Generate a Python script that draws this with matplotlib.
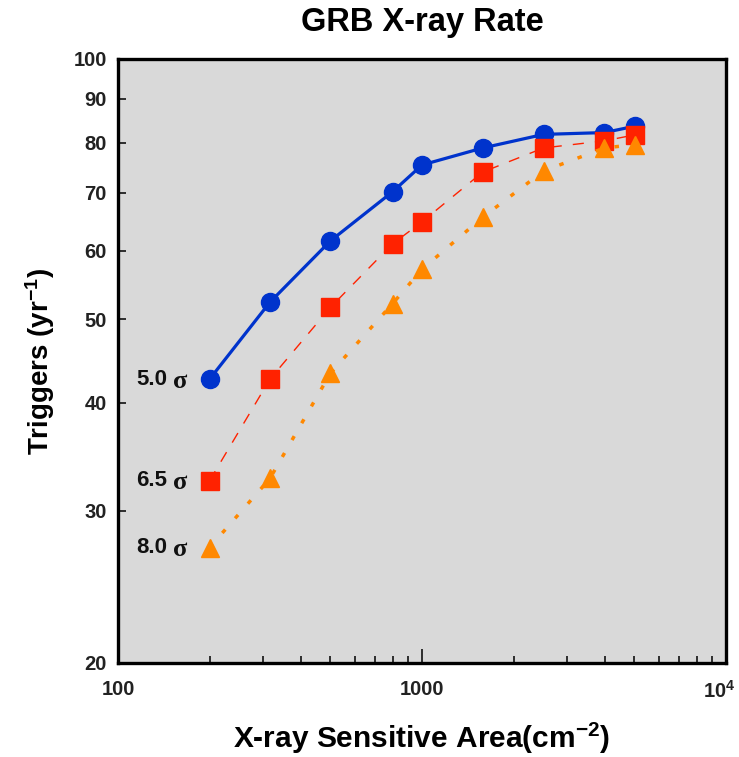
import matplotlib
matplotlib.use("Agg")
import matplotlib.pyplot as plt
from matplotlib.ticker import FixedLocator, NullFormatter, NullLocator
from matplotlib.transforms import ScaledTranslation

area = [200, 316, 500, 800, 1000, 1585, 2512, 3981, 5012]
rate_5sigma = [42.6, 52.3, 61.6, 70.2, 75.4, 78.9, 81.8, 82.2, 83.6]
rate_65sigma = [32.5, 42.6, 51.6, 61.1, 64.8, 74.0, 78.9, 80.4, 81.7]
rate_8sigma = [27.2, 32.7, 43.3, 52.1, 57.1, 65.6, 74.2, 78.9, 79.6]
series_values = ["5.0", "6.5", "8.0"]
yticks = [20, 30, 40, 50, 60, 70, 80, 90, 100]
xticks = [100, 1000, 10000]
xticklabels = ["100", "1000", r"10$^{\mathbf{4}}$"]

plt.rcParams['font.family'] = ['Liberation Sans', 'DejaVu Sans']
plt.rcParams['mathtext.fontset'] = 'custom'
plt.rcParams['mathtext.rm'] = 'Liberation Sans:bold'
plt.rcParams['mathtext.bf'] = 'Liberation Sans:bold'
plt.rcParams['mathtext.default'] = 'bf'

fig = plt.figure(figsize=(7.39, 7.57), dpi=100)
ax = fig.add_axes([118/739, 1-663/757, (726-118)/739, (663-59)/757])
ax.set_facecolor('#d9d9d9')
ax.set_xscale('log')
ax.set_yscale('log')
ax.set_xlim(100, 10000)
ax.set_ylim(20, 100)

ms = 13
ax.plot(area, rate_5sigma, '-', color='#0033cc', lw=2.3, marker='o', ms=ms, zorder=3)
ax.plot(area, rate_65sigma, color='#ff2200', lw=1.0, dashes=(8, 8), marker='s', ms=ms-0.5, zorder=4)
ax.plot(area, rate_8sigma, color='#ff8800', lw=2.5, dashes=(1.3, 4.3), marker='^', ms=ms, zorder=5)

for lab, yv in zip(series_values, [rate_5sigma[0], rate_65sigma[0], rate_8sigma[0]]):
    ax.annotate('σ', (area[0], yv), xytext=(-16, -1.5), textcoords='offset points',
                ha='right', va='center', fontsize=19, fontweight='bold', color='#111111',
                family=['Liberation Serif', 'DejaVu Serif'])
    ax.annotate(lab, (area[0], yv), xytext=(-30.5, 0), textcoords='offset points',
                ha='right', va='center', fontsize=16, fontweight='bold', color='#111111')

ax.yaxis.set_major_locator(FixedLocator(yticks))
ax.yaxis.set_minor_locator(NullLocator())
ax.set_yticklabels([str(v) for v in yticks])
ax.yaxis.set_minor_formatter(NullFormatter())
ax.xaxis.set_major_locator(FixedLocator(xticks))
ax.set_xticklabels(xticklabels)
ax.xaxis.set_minor_formatter(NullFormatter())

ax.tick_params(axis='both', which='both', direction='in', labelsize=14.5, width=1.2, color='#111111')
ax.tick_params(axis='y', which='major', length=6, pad=8)
ax.tick_params(axis='x', which='major', length=10, pad=12)
ax.tick_params(axis='x', which='minor', length=5)
for lbl in ax.get_xticklabels() + ax.get_yticklabels():
    lbl.set_fontweight('bold')
    lbl.set_color('#222222')
last = ax.get_xticklabels()[-1]
last.set_transform(last.get_transform() + ScaledTranslation(-5/72, 0, fig.dpi_scale_trans))

for sp in ax.spines.values():
    sp.set_linewidth(2.4)
    sp.set_color('#000000')

ax.set_title('GRB X-ray Rate', fontsize=23.5, fontweight='bold', pad=20)
ax.set_xlabel(r'X-ray Sensitive Area(cm$^{-2}$)', fontsize=21.5, fontweight='bold', labelpad=14)
ax.set_ylabel(r'Triggers (yr$^{-1}$)', fontsize=20, fontweight='bold', labelpad=12)

fig.savefig('out.png', dpi=100)
